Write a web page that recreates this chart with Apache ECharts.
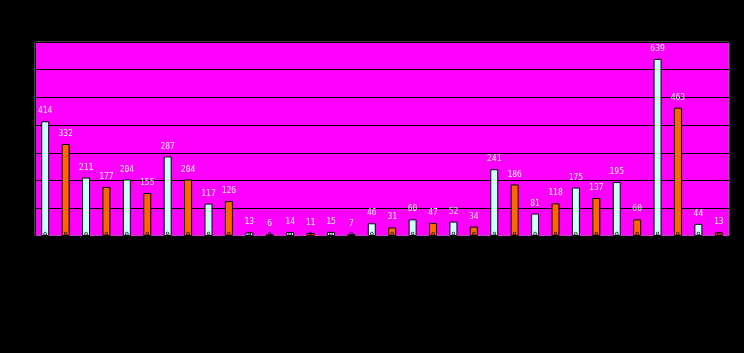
<!DOCTYPE html>
<html>
<head>
<meta charset="utf-8">
<script src="https://cdn.jsdelivr.net/npm/echarts@6/dist/echarts.min.js"></script>
<style>
  html, body { margin: 0; padding: 0; background: #000; }
  #chart { width: 744px; height: 353px; }
</style>
</head>
<body>
<div id="chart"></div>
<script>
// chart data
const categories = ['1', '2', '3', '4', '5', '6', '7', '8', '9', '10', '11', '12', '13', '14', '15', '16', '17'];
const cyanValues = [414, 211, 204, 287, 117, 13, 14, 15, 46, 60, 52, 241, 81, 175, 195, 639, 44];
const orangeValues = [332, 177, 155, 204, 126, 6, 11, 7, 31, 47, 34, 186, 118, 137, 60, 463, 13];
const baseValues = [0, 0, 0, 0, 0, 0, 0, 0, 0, 0, 0, 0, 0, 0, 0, 0, 0];

(function () {
  const chart = echarts.init(document.getElementById('chart'));

  const valueLabel = {
    show: true,
    position: 'top',
    distance: 6,
    color: '#f0f0f0',
    fontSize: 8,
    fontFamily: 'DejaVu Sans Mono'
  };

  // little black "0" sitting at the foot of every bar
  const zeroLabel = {
    show: true,
    position: 'top',
    distance: -3,
    color: '#000000',
    fontSize: 7,
    fontFamily: 'DejaVu Sans Mono'
  };

  const barBorder = { borderColor: '#000000', borderWidth: 1 };

  chart.setOption({
    backgroundColor: '#000000',
    animation: false,
    grid: {
      left: 35,
      top: 42,
      right: 15,
      bottom: 117,
      show: true,
      backgroundColor: '#ff00ff',
      borderColor: '#808080',
      borderWidth: 1
    },
    xAxis: {
      type: 'category',
      data: categories,
      axisLine: { lineStyle: { color: '#000000', width: 1 } },
      axisTick: { show: false },
      axisLabel: { show: false }
    },
    yAxis: {
      type: 'value',
      min: 0,
      max: 700,
      interval: 100,
      axisLine: { show: true, lineStyle: { color: '#000000' } },
      axisTick: { show: false },
      axisLabel: { show: false },
      splitLine: { lineStyle: { color: '#000000', width: 1 } }
    },
    series: [
      {
        name: 'baseA',
        type: 'bar',
        stack: 'a',
        data: baseValues,
        barWidth: 8,
        barGap: '155%',
        itemStyle: { color: '#ccffff' },
        label: zeroLabel,
        z: 3
      },
      {
        name: 'cyan',
        type: 'bar',
        stack: 'a',
        data: cyanValues,
        barWidth: 8,
        barGap: '155%',
        itemStyle: Object.assign({ color: '#ccffff' }, barBorder),
        label: valueLabel,
        z: 2
      },
      {
        name: 'baseB',
        type: 'bar',
        stack: 'b',
        data: baseValues,
        barWidth: 8,
        barGap: '155%',
        itemStyle: { color: '#ff6600' },
        label: zeroLabel,
        z: 3
      },
      {
        name: 'orange',
        type: 'bar',
        stack: 'b',
        data: orangeValues,
        barWidth: 8,
        barGap: '155%',
        itemStyle: Object.assign({ color: '#ff6600' }, barBorder),
        label: valueLabel,
        z: 2
      }
    ]
  });
})();
</script>
</body>
</html>
